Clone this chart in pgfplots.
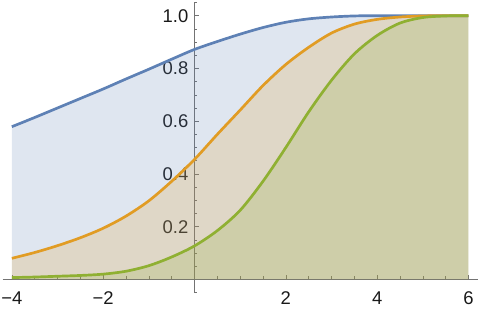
\documentclass[border=0pt]{standalone}
\usepackage{pgfplots}
\usepackage{pgfplotstable}
\pgfplotsset{compat=1.18}
\usepackage{fontspec}
\setmainfont{Liberation Sans}
\usetikzlibrary{calc}
\definecolor{mblue}{rgb}{0.368417,0.506779,0.709798}
\definecolor{morange}{rgb}{0.880722,0.611041,0.142051}
\definecolor{mgreen}{rgb}{0.560181,0.691569,0.194885}

\pgfplotstableread{
x y
-4 0.579
-3.5 0.614
-3 0.650
-2.5 0.686
-2 0.722
-1.5 0.760
-1 0.797
-0.5 0.835
0 0.872
0.5 0.902
1 0.930
1.5 0.955
2 0.975
2.5 0.988
3 0.995
3.5 0.999
4 1.0
5 1.0
6 1.0
}\bluedata

\pgfplotstableread{
x y
-4 0.080
-3.5 0.102
-3 0.128
-2.5 0.158
-2 0.194
-1.5 0.240
-1 0.298
-0.5 0.372
0 0.455
0.5 0.550
1 0.642
1.5 0.735
2 0.815
2.5 0.880
3 0.934
3.5 0.968
4 0.986
4.5 0.995
5 0.999
5.5 1.0
6 1.0
}\orangedata

\pgfplotstableread{
x y
-4 0.007
-3.5 0.009
-3 0.012
-2.5 0.015
-2 0.020
-1.5 0.031
-1 0.052
-0.5 0.085
0 0.127
0.5 0.185
1 0.262
1.5 0.372
2 0.500
2.5 0.635
3 0.755
3.5 0.855
4 0.925
4.5 0.972
5 0.993
5.5 0.999
6 1.0
}\greendata

\begin{document}
\begin{tikzpicture}
\begin{axis}[
  scale only axis, width=474.9bp, height=290.1bp,
  xmin=-4.2, xmax=6.2, ymin=-0.05, ymax=1.05,
  axis lines=middle,
  axis line style={black!55, line width=0.7pt, -},
  xtick={-4,-2,2,4,6}, xticklabels={−4,−2,2,4,6},
  ytick={0.2,0.4,0.6,0.8,1.0}, yticklabels={0.2,0.4,0.6,0.8,1.0},
  minor xtick={-3.5,-3,-2.5,-1.5,-1,-0.5,0.5,1,1.5,2.5,3,3.5,4.5,5,5.5},
  minor ytick={-0.05,0.05,0.1,0.15,0.25,0.3,0.35,0.45,0.5,0.55,0.65,0.7,0.75,0.85,0.9,0.95,1.05},
  tick align=inside,
  major tick length=4.7bp, minor tick length=3bp,
  every tick/.style={black!55, line width=0.6pt},
  ticklabel style={font=\fontsize{18.5}{20}\selectfont, text=black!90, inner sep=0pt},
  xticklabel style={anchor=north, yshift=-12bp},
  yticklabel style={anchor=east, xshift=-6bp},
]
\addplot[draw=none, fill=mblue, fill opacity=0.2, smooth] table {\bluedata} \closedcycle;
\addplot[draw=none, fill=morange, fill opacity=0.2, smooth] table {\orangedata} \closedcycle;
\addplot[draw=none, fill=mgreen, fill opacity=0.2, smooth] table {\greendata} \closedcycle;
\addplot[mblue, line width=2.7pt, smooth] table {\bluedata};
\addplot[morange, line width=2.7pt, smooth] table {\orangedata};
\addplot[mgreen, line width=2.7pt, smooth] table {\greendata};
\end{axis}
\pgfresetboundingbox
\path[use as bounding box] ($(current axis.south west)+(-2.7bp,-18.4bp)$) rectangle ($(current axis.north east)+(4.4bp,2.5bp)$);
\end{tikzpicture}
\end{document}
